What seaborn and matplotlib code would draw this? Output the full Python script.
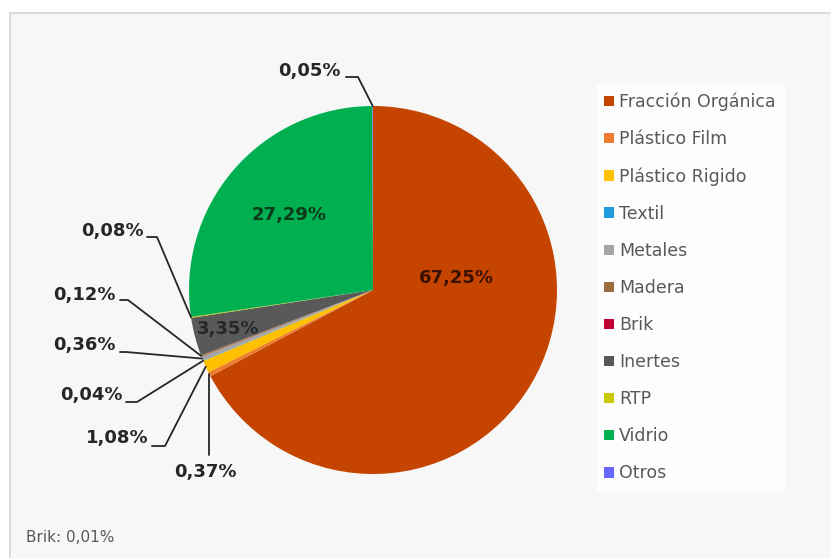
import matplotlib
matplotlib.use("Agg")
import matplotlib.pyplot as plt
import matplotlib.patches as mpatches
import numpy as np
import seaborn as sns

sns.set_style("white")
plt.rcParams['font.family'] = ['DejaVu Sans']

# datos del gráfico
categorias = ["Fracción Orgánica", "Plástico Film", "Plástico Rigido", "Textil", "Metales",
              "Madera", "Brik", "Inertes", "RTP", "Vidrio", "Otros"]
porcentajes = [67.25, 0.37, 1.08, 0.04, 0.36, 0.12, 0.01, 3.35, 0.08, 27.29, 0.05]
colores = ["#C54500", "#ED7D31", "#FFC000", "#1F9BDE", "#A5A5A5", "#9E6B3F",
           "#C00030", "#595959", "#C9C900", "#00B050", "#6666FF"]
nota = "Brik: 0,01%"

W, H = 831, 558
fig = plt.figure(figsize=(W / 100, H / 100), dpi=100, facecolor="white")

ax = fig.add_axes([0, 0, 1, 1])
ax.set_aspect("equal")

# marco del área del gráfico
ax.add_patch(mpatches.Rectangle((10, -5), W, H - 13 + 5, facecolor="#f7f7f7",
                                edgecolor="#d6d6d6", lw=1.2, zorder=0))

cx, cy, r = 373, H - 290, 184
wedges, _ = ax.pie(porcentajes, colors=colores, startangle=90, counterclock=False,
                   center=(cx, cy), radius=r, frame=True,
                   wedgeprops=dict(linewidth=0, zorder=2))
ax.set_xlim(0, W)
ax.set_ylim(0, H)
ax.axis("off")


def fmt(v):
    return f"{v:.2f}".replace(".", ",") + "%"


# etiquetas exteriores con líneas guía (posición del texto y codo, en píxeles)
exteriores = {
    "Otros": ((309, 71), (346, 77), (358, 77)),
    "RTP": ((112, 231), (147, 237), (157, 237)),
    "Madera": ((84, 295), (120, 300), (128, 300)),
    "Metales": ((84, 345), (120, 352), (126, 352)),
    "Textil": ((91, 395), (126, 402), (137, 402)),
    "Plástico Rigido": ((117, 438), (152, 446), (165, 446)),
}
for nombre, (txt, p0, p1) in exteriores.items():
    w = wedges[categorias.index(nombre)]
    ang = np.deg2rad((w.theta1 + w.theta2) / 2)
    ax_, ay_ = cx + r * np.cos(ang), cy + r * np.sin(ang)
    ax.plot([p0[0], p1[0], ax_], [H - p0[1], H - p1[1], ay_], color="#262626", lw=1.3, zorder=3)
    ax.text(txt[0], H - txt[1], fmt(porcentajes[categorias.index(nombre)]),
            ha="center", va="center", fontsize=13, fontweight="bold", color="#262626")

# Plástico Film: etiqueta debajo con línea vertical
w = wedges[1]
ang = np.deg2rad((w.theta1 + w.theta2) / 2)
ax_, ay_ = cx + r * np.cos(ang), cy + r * np.sin(ang)
ax.plot([ax_, ax_], [ay_, H - 455], color="#262626", lw=1.3, zorder=3)
ax.text(205, H - 472, fmt(porcentajes[1]), ha="center", va="center",
        fontsize=13, fontweight="bold", color="#262626")

# etiquetas interiores
ax.text(456, H - 278, fmt(porcentajes[0]), ha="center", va="center",
        fontsize=13, fontweight="bold", color="#3a1000", zorder=4)
ax.text(289, H - 215, fmt(porcentajes[9]), ha="center", va="center",
        fontsize=13, fontweight="bold", color="#0d3a1a", zorder=4)
ax.text(228, H - 329, fmt(porcentajes[7]), ha="center", va="center",
        fontsize=13, fontweight="bold", color="#262626", zorder=4)

ax.text(26, H - 537, nota, ha="left", va="center", fontsize=11, color="#595959")

leg = ax.legend(wedges, categorias, loc="upper left", bbox_to_anchor=(588 / W, 1 - 76 / H),
                bbox_transform=fig.transFigure, frameon=True, fontsize=12.5,
                handlelength=0.55, handleheight=0.55, handletextpad=0.3,
                labelspacing=1.1, borderpad=0.45, fancybox=False)
leg.get_frame().set_facecolor("white")
leg.get_frame().set_edgecolor("white")
for t in leg.get_texts():
    t.set_color("#595959")

fig.savefig("out.png", dpi=100, facecolor="white")
